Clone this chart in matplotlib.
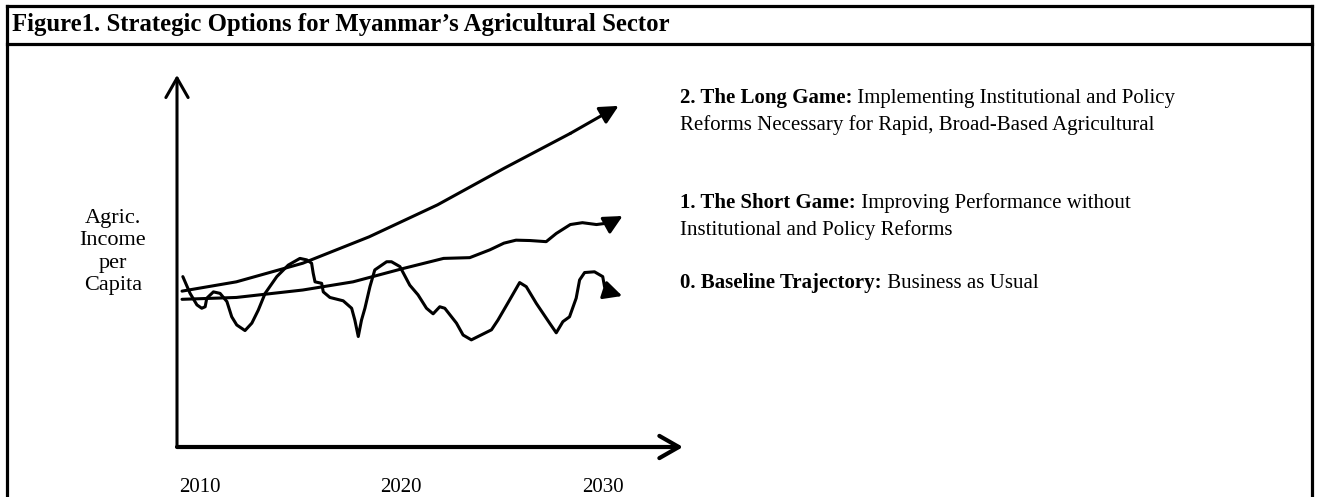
import matplotlib.pyplot as plt
from matplotlib.lines import Line2D

# schematic trajectories (year, income index 0-100)
years_long = [2009.1, 2011.8, 2015.1, 2018.4, 2021.8, 2025.1, 2028.4, 2030.8]
income_long = [41.9, 44.4, 49.4, 56.5, 65.1, 74.9, 84.3, 91.7]

years_short = [2009.1, 2011.8, 2015.1, 2017.6, 2020.1, 2022.1, 2023.4, 2024.4, 2025.1,
               2025.7, 2026.4, 2027.2, 2027.7, 2028.4, 2029.0, 2029.7, 2030.4, 2031.0]
income_short = [39.7, 40.2, 42.2, 44.4, 48.0, 50.7, 50.9, 53.0, 54.8,
                55.6, 55.5, 55.2, 57.4, 59.8, 60.3, 59.8, 60.3, 62.1]

years_base = [2009.14, 2009.50, 2009.84, 2010.08, 2010.25, 2010.33, 2010.66, 2010.99, 2011.33,
              2011.57, 2011.82, 2012.23, 2012.57, 2012.89, 2013.23, 2013.81, 2014.38, 2014.96,
              2015.30, 2015.54, 2015.62, 2015.71, 2016.04, 2016.12, 2016.45, 2017.11, 2017.53,
              2017.69, 2017.86, 2018.02, 2018.19, 2018.44, 2018.68, 2019.27, 2019.51, 2019.93,
              2020.42, 2020.83, 2021.25, 2021.58, 2021.91, 2022.16, 2022.74, 2023.07, 2023.48,
              2024.48, 2024.80, 2025.38, 2025.88, 2026.21, 2026.71, 2027.37, 2027.70, 2028.03,
              2028.36, 2028.69, 2028.86, 2029.11, 2029.60, 2030.01, 2030.10, 2030.35, 2030.98]
income_base = [45.8, 41.3, 38.2, 37.3, 37.7, 40.0, 41.7, 41.3, 39.1,
               35.0, 32.8, 31.3, 33.3, 36.8, 41.3, 45.8, 48.9, 50.7,
               50.3, 49.4, 46.7, 44.4, 44.0, 41.7, 40.2, 39.3, 37.3,
               34.1, 29.7, 34.1, 37.3, 43.1, 47.6, 49.8, 49.8, 48.5,
               43.5, 40.9, 37.3, 35.8, 37.7, 37.3, 33.3, 30.1, 28.8,
               31.5, 34.1, 39.5, 44.2, 43.1, 38.6, 33.3, 30.7, 33.7,
               35.0, 40.0, 44.9, 46.9, 47.1, 45.8, 43.1, 41.7, 40.6]

tick_years = [2010, 2020, 2030]
tick_labels = ['2010', '2020', '2030']

titles = ['2. The Long Game:', '1. The Short Game:', '0. Baseline Trajectory:']
descs = [' Implementing Institutional and Policy', ' Improving Performance without',
         ' Business as Usual']
second_lines = ['Reforms Necessary for Rapid, Broad-Based Agricultural',
                'Institutional and Policy Reforms', '']

plt.rcParams['font.family'] = ['Liberation Serif', 'DejaVu Serif']

W, H = 1317, 497
fig = plt.figure(figsize=(W / 100, H / 100), dpi=100)


def fx(px):
    return px / W


def fy(py):
    return 1 - py / H


# box around the figure and title divider
for (x1, y1), (x2, y2) in [((7, 6), (1312, 6)), ((7, 6), (7, 500)),
                           ((1312, 6), (1312, 500)), ((7, 44), (1312, 44))]:
    fig.add_artist(Line2D([fx(x1), fx(x2)], [fy(y1), fy(y2)], lw=2.3, color='black'))

fig.text(fx(12), fy(25), 'Figure1. Strategic Options for Myanmar\u2019s Agricultural Sector',
         fontsize=17.8, fontweight='bold', ha='left', va='center')

ax = fig.add_axes([fx(177), fy(447), fx(683) - fx(177), (447 - 75) / H])
x0, x1 = 2008.85, 2034.0
ax.set_xlim(x0, x1)
ax.set_ylim(0, 100)
for s in ax.spines.values():
    s.set_visible(False)
ax.set_yticks([])
ax.set_xticks(tick_years, tick_labels)
ax.tick_params(axis='x', length=0, pad=22, labelsize=15)

# hand-drawn style axes
ax.annotate('', xy=(x0, 100), xytext=(x0, 0), annotation_clip=False,
            arrowprops=dict(arrowstyle='->,head_length=0.7,head_width=0.4', lw=2.2,
                            color='black', shrinkA=0, shrinkB=0, mutation_scale=20))
ax.annotate('', xy=(x1, 0), xytext=(x0, 0), annotation_clip=False,
            arrowprops=dict(arrowstyle='->,head_length=0.7,head_width=0.4', lw=3,
                            color='black', shrinkA=0, shrinkB=0, mutation_scale=20))

for xs, ys in [(years_long, income_long), (years_short, income_short), (years_base, income_base)]:
    ax.plot(xs[:-1], ys[:-1], color='black', lw=2.2, solid_joinstyle='round',
            solid_capstyle='round', clip_on=False)
    ax.annotate('', xy=(xs[-1], ys[-1]), xytext=(xs[-2], ys[-2]), annotation_clip=False,
                arrowprops=dict(arrowstyle='-|>,head_length=0.8,head_width=0.4', lw=2.2,
                                color='black', shrinkA=0, shrinkB=0, mutation_scale=14))

fig.text(fx(113), fy(252), 'Agric.\nIncome\nper\nCapita', fontsize=16,
         ha='center', va='center', linespacing=1.25)

label_y = [98, 203, 283]
for t, d, s, y in zip(titles, descs, second_lines, label_y):
    bold = fig.text(fx(680), fy(y), t, fontsize=15, fontweight='bold', ha='left', va='center')
    ax.annotate(d, xy=(1, 0), xycoords=bold, fontsize=15, ha='left', va='bottom')
    if s:
        fig.text(fx(680), fy(y + 27), s, fontsize=15, ha='left', va='center')

fig.savefig('out.png', dpi=100)
